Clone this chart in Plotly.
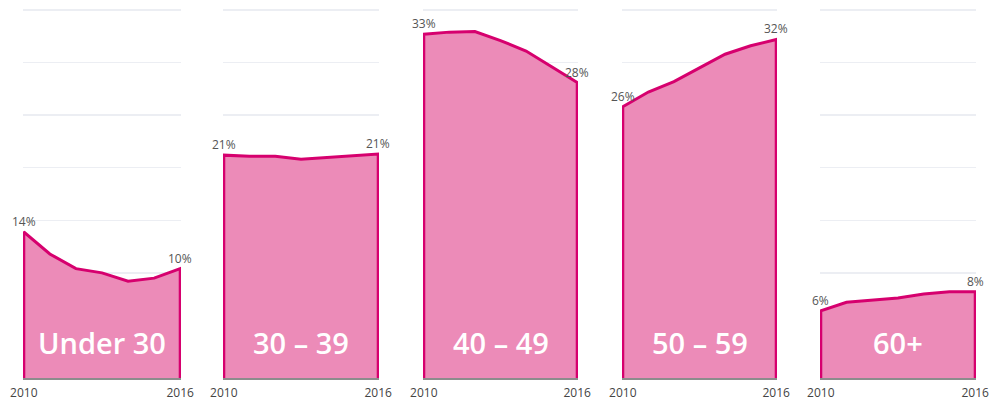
import plotly.graph_objects as go

years = [2010, 2011, 2012, 2013, 2014, 2015, 2016]
groups = ["Under 30", "30 – 39", "40 – 49", "50 – 59", "60+"]
under30 = [13.9, 11.8, 10.4, 10.0, 9.2, 9.5, 10.4]
age30_39 = [21.2, 21.1, 21.1, 20.8, 20.95, 21.1, 21.3]
age40_49 = [32.7, 32.9, 32.95, 32.1, 31.1, 29.6, 28.1]
age50_59 = [25.8, 27.2, 28.2, 29.5, 30.8, 31.6, 32.2]
age60plus = [6.4, 7.2, 7.4, 7.6, 8.0, 8.2, 8.2]
series = [under30, age30_39, age40_49, age50_59, age60plus]
tick_labels = ["2010", "2016"]

W, H = 993, 406
px_domains = [(23, 181), (223, 379), (423, 578), (622, 777), (820, 976)]

LINE = "rgb(214,0,110)"
FILL = "rgb(236,139,184)"

fig = go.Figure()
layout = dict(
    template="none",
    width=W, height=H,
    margin=dict(l=0, r=0, t=9, b=406 - 378, pad=0, autoexpand=False),
    paper_bgcolor="white", plot_bgcolor="white",
    showlegend=False,
    font=dict(family="Open Sans, sans-serif", color="#555"),
)
annotations = []
for i, (name, vals) in enumerate(zip(groups, series)):
    n = i + 1
    xa = "x" if n == 1 else f"x{n}"
    ya = "y" if n == 1 else f"y{n}"
    xs = [years[0]] + years + [years[-1]]
    ys = [0] + vals + [0]
    fig.add_trace(go.Scatter(
        x=xs, y=ys, mode="lines", fill="toself", fillcolor=FILL,
        line=dict(color=LINE, width=3), xaxis=xa, yaxis=ya,
        hoverinfo="skip",
    ))
    for xv, yv in ((years[0], vals[0]), (years[-1], vals[-1])):
        annotations.append(dict(
            x=xv, y=yv, xref=xa, yref=ya, text=f"{round(yv)}%",
            showarrow=False, yanchor="bottom", xanchor="center", yshift=0,
            font=dict(size=12, color="#555", family="Open Sans, sans-serif"),
        ))
    d0, d1 = px_domains[i]
    layout[f"xaxis{'' if n == 1 else n}"] = dict(
        domain=[d0 / W, d1 / W], range=[2009.97, 2016.03],
        tickvals=[years[0], years[-1]], ticktext=tick_labels,
        showgrid=False, zeroline=False, automargin=False,
        showline=True, linecolor="#8c8c8c", linewidth=2,
        ticks="", ticklen=0, ticklabelstandoff=3,
        tickfont=dict(size=12, color="#444"),
        fixedrange=True,
    )
    layout[f"yaxis{'' if n == 1 else n}"] = dict(
        anchor=xa, range=[0, 35.1], tickvals=[5, 10, 15, 20, 25, 30, 35],
        showgrid=True, gridcolor="#eceef3", gridwidth=1.5, automargin=False,
        zeroline=False, showticklabels=False, ticks="", fixedrange=True,
    )
    annotations.append(dict(
        x=(years[0] + years[-1]) / 2, y=3.4, xref=xa, yref=ya,
        text=name, showarrow=False, yanchor="middle",
        font=dict(size=29, color="white", family="Open Sans, sans-serif", weight=600),
    ))

layout["annotations"] = annotations
fig.update_layout(**layout)
fig.write_html(
    "out.html",
    config={"displayModeBar": False, "staticPlot": True},
    post_script="document.body.style.margin='0';document.body.style.overflow='hidden';",
)
